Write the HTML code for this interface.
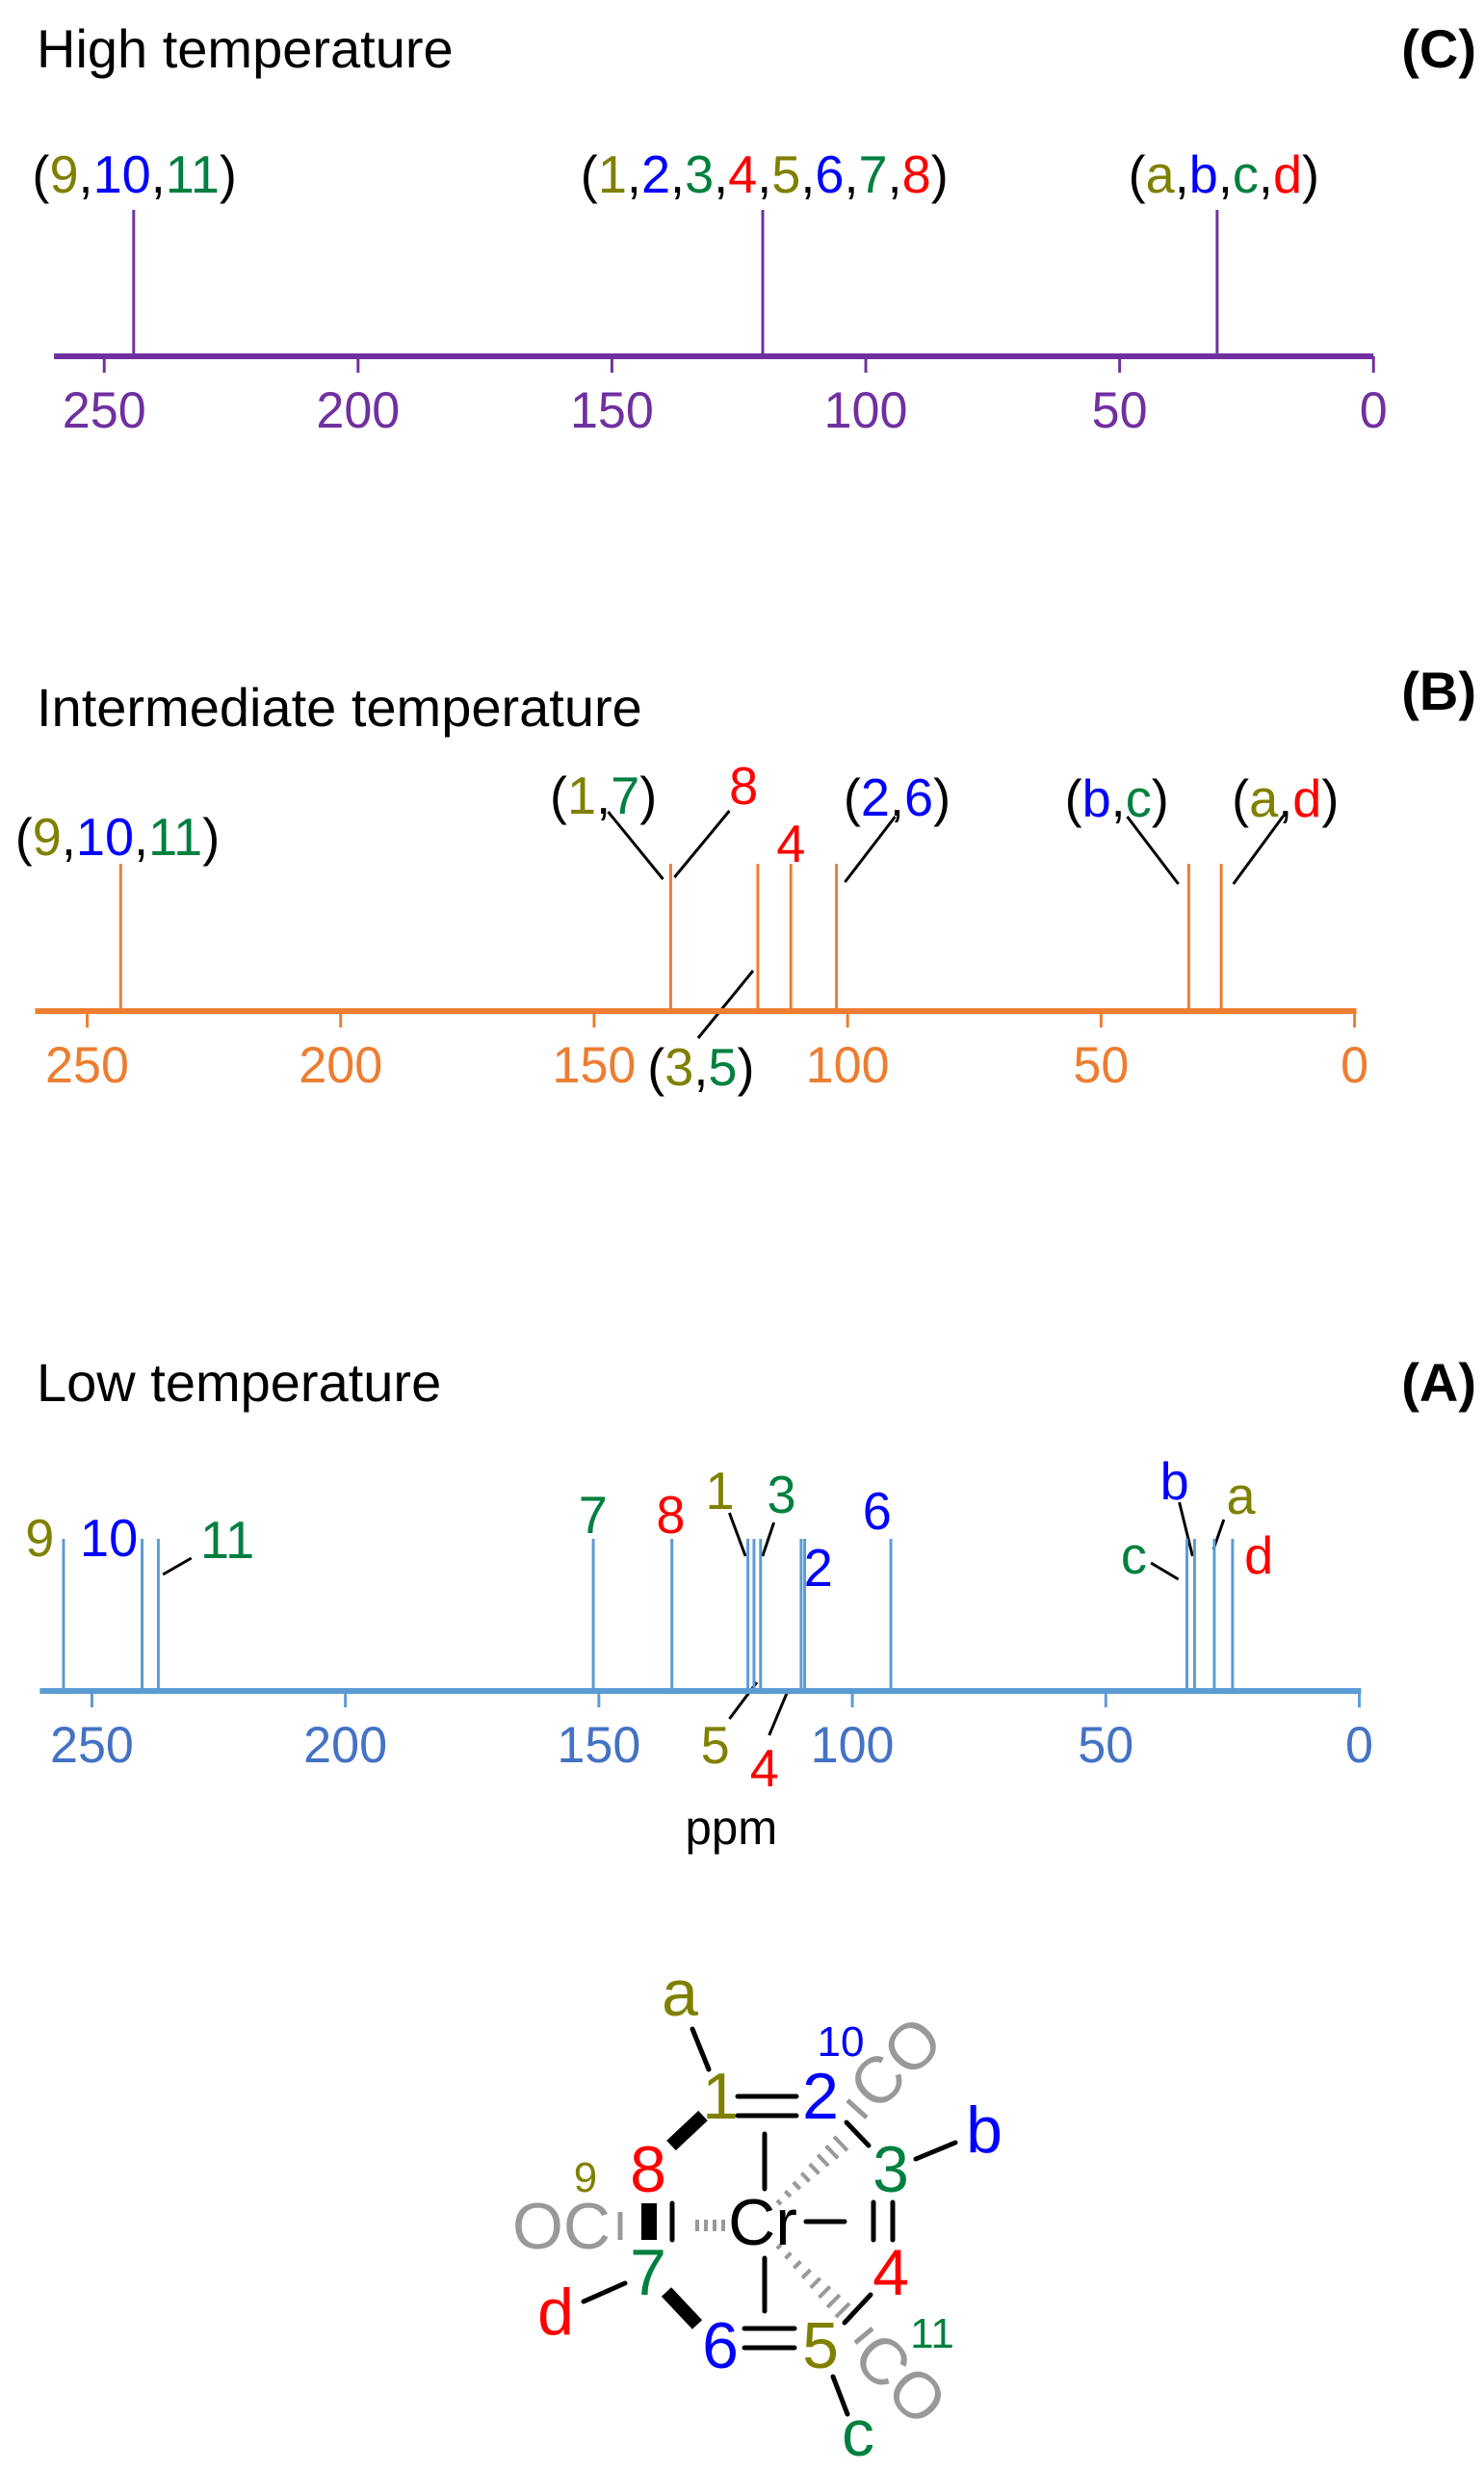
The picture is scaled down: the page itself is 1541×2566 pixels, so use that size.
<!DOCTYPE html>
<html><head><meta charset="utf-8"><style>
html,body{margin:0;padding:0;background:#fff}
svg{display:block;font-family:"Liberation Sans",sans-serif}
</style></head><body>
<svg id="s" width="1541" height="2566" viewBox="0 0 1541 2566" xmlns="http://www.w3.org/2000/svg">
<g font-size="56">
<text x="38" y="70">High temperature</text>
<text x="1533" y="70" text-anchor="end" font-weight="bold">(C)</text>
<text x="38" y="754">Intermediate temperature</text>
<text x="1533" y="737" text-anchor="end" font-weight="bold">(B)</text>
<text x="38" y="1455">Low temperature</text>
<text x="1533" y="1455" text-anchor="end" font-weight="bold">(A)</text>
</g>
<g transform="matrix(0.9836,0,0,1,2,0)">
<g font-size="55" text-anchor="middle">
<text x="140" y="200">(<tspan fill="#808000">9</tspan>,<tspan fill="#0000ff">10</tspan>,<tspan fill="#008040">11</tspan>)</text>
<text x="805" y="200">(<tspan fill="#808000">1</tspan>,<tspan fill="#0000ff">2</tspan>,<tspan fill="#008040">3</tspan>,<tspan fill="#ff0000">4</tspan>,<tspan fill="#808000">5</tspan>,<tspan fill="#0000ff">6</tspan>,<tspan fill="#008040">7</tspan>,<tspan fill="#ff0000">8</tspan>)</text>
<text x="1290" y="200">(<tspan fill="#808000">a</tspan>,<tspan fill="#0000ff">b</tspan>,<tspan fill="#008040">c</tspan>,<tspan fill="#ff0000">d</tspan>)</text>
</g>
<g font-size="55" text-anchor="middle">
<text x="122" y="888">(<tspan fill="#808000">9</tspan>,<tspan fill="#0000ff">10</tspan>,<tspan fill="#008040">11</tspan>)</text>
<text x="635" y="845">(<tspan fill="#808000">1</tspan>,<tspan fill="#008040">7</tspan>)</text>
<text x="783" y="835" fill="#ff0000">8</text>
<text x="833" y="895" fill="#ff0000">4</text>
<text x="945" y="847">(<tspan fill="#0000ff">2</tspan>,<tspan fill="#0000ff">6</tspan>)</text>
<text x="1177" y="848">(<tspan fill="#0000ff">b</tspan>,<tspan fill="#008040">c</tspan>)</text>
<text x="1355" y="848">(<tspan fill="#808000">a</tspan>,<tspan fill="#ff0000">d</tspan>)</text>
<text x="738" y="1127">(<tspan fill="#808000">3</tspan>,<tspan fill="#008040">5</tspan>)</text>
</g>
<g stroke="#000" stroke-width="3">
<line x1="640" y1="843" x2="698" y2="913"/><line x1="768" y1="842" x2="710" y2="911"/>
<line x1="943" y1="848" x2="890" y2="916"/><line x1="1188" y1="848" x2="1242" y2="918"/>
<line x1="1353" y1="847" x2="1300" y2="918"/><line x1="793" y1="1008" x2="735" y2="1078"/>
</g>
<g font-size="55" text-anchor="middle">
<text x="40" y="1616" fill="#808000">9</text>
<text x="113" y="1616" fill="#0000ff">10</text>
<text x="238" y="1618" fill="#008040">11</text>
<text x="624" y="1592" fill="#008040">7</text>
<text x="706" y="1592" fill="#ff0000">8</text>
<text x="758" y="1567" fill="#808000">1</text>
<text x="823" y="1571" fill="#008040">3</text>
<text x="862" y="1647" fill="#0000ff">2</text>
<text x="924" y="1588" fill="#0000ff">6</text>
<text x="753" y="1831" fill="#808000">5</text>
<text x="805" y="1855" fill="#ff0000">4</text>
<text x="1238" y="1557" fill="#0000ff">b</text>
<text x="1308" y="1572" fill="#808000">a</text>
<text x="1195" y="1634" fill="#008040">c</text>
<text x="1327" y="1634" fill="#ff0000">d</text>
</g>
<g stroke="#000" stroke-width="3">
<line x1="170" y1="1635" x2="200" y2="1618"/>
<line x1="768" y1="1571" x2="785" y2="1616"/><line x1="815" y1="1581" x2="803" y2="1616"/>
<line x1="768" y1="1785" x2="797" y2="1747"/><line x1="810" y1="1802" x2="830" y2="1755"/>
<line x1="1243" y1="1560" x2="1257" y2="1616"/><line x1="1290" y1="1578" x2="1279" y2="1609"/>
<line x1="1213" y1="1623" x2="1242" y2="1640"/>
</g>
<text x="770" y="1915" font-size="50" text-anchor="middle">ppm</text>
<g id="charts"></g>
</g>
<g id="mol" font-size="68" text-anchor="middle">
<g stroke="#000" stroke-width="5" stroke-linecap="round">
<line x1="719" y1="2107" x2="736" y2="2149"/>
<line x1="766" y1="2177" x2="827" y2="2177"/><line x1="766" y1="2197" x2="827" y2="2197"/>
<line x1="879" y1="2204" x2="902" y2="2228"/>
<line x1="951" y1="2242" x2="992" y2="2225"/>
<line x1="794" y1="2216" x2="794" y2="2273"/>
<line x1="794" y1="2345" x2="794" y2="2400"/>
<line x1="837" y1="2307" x2="877" y2="2307"/>
<line x1="907" y1="2287" x2="907" y2="2326"/><line x1="927" y1="2287" x2="927" y2="2326"/>
<line x1="904" y1="2383" x2="877" y2="2412"/>
<line x1="865" y1="2468" x2="880" y2="2507"/>
<line x1="773" y1="2418" x2="825" y2="2418"/><line x1="773" y1="2438" x2="825" y2="2438"/>
<line x1="698" y1="2288" x2="698" y2="2326"/>
<line x1="606" y1="2390" x2="649" y2="2371"/>
</g>
<g stroke="#000" stroke-width="14">
<line x1="692" y1="2380" x2="724" y2="2414"/>
<line x1="697" y1="2228" x2="730" y2="2197"/>
<line x1="674" y1="2288" x2="674" y2="2326" stroke-width="16"/>
</g>
<g stroke="#999" stroke-width="5">
<line x1="644" y1="2297" x2="644" y2="2326"/>
<line x1="880" y1="2181" x2="900" y2="2199"/>
<line x1="888" y1="2433" x2="906" y2="2418"/>
</g>
<g stroke="#999" stroke-width="4" id="hash"></g>
<text x="706" y="2093" fill="#808000">a</text>
<text x="748" y="2200" fill="#808000">1</text>
<text x="852" y="2200" fill="#0000ff">2</text>
<text x="925" y="2276" fill="#008040">3</text>
<text x="1022" y="2235" fill="#0000ff">b</text>
<text x="792" y="2331" fill="#000">Cr</text>
<text x="925" y="2383" fill="#ff0000">4</text>
<text x="852" y="2459" fill="#808000">5</text>
<text x="891" y="2550" fill="#008040">c</text>
<text x="748" y="2459" fill="#0000ff">6</text>
<text x="673" y="2276" fill="#ff0000">8</text>
<text x="673" y="2383" fill="#008040">7</text>
<text x="577" y="2424" fill="#ff0000">d</text>
<text x="583" y="2335" fill="#999">OC</text>
<text transform="translate(931,2143) rotate(-45)" y="22" fill="#999">CO</text>
<text transform="translate(934,2471) rotate(45)" y="22" fill="#999">CO</text>
<g font-size="44">
<text x="873" y="2135" fill="#0000ff">10</text>
<text x="608" y="2276" fill="#808000">9</text>
<text x="968" y="2438" fill="#008040">11</text>
</g>
</g>
</svg>
<script>
// Panel C (high temperature) data
var ticksC = [250, 200, 150, 100, 50, 0];
var peaksC = [244.2, 120.3, 30.8];
// Panel B (intermediate temperature) data
var ticksB = [250, 200, 150, 100, 50, 0];
var peaksB = [243.4, 134.9, 117.7, 111.2, 102.2, 32.7, 26.3];
// Panel A (low temperature) data
var ticksA = [250, 200, 150, 100, 50, 0];
var peaksA = [255.6, 240.1, 236.9, 151.1, 135.6, 120.6, 119.4, 118.1, 110.1, 109.4, 92.4, 34.0, 32.5, 28.6, 25.0];

var NS = "http://www.w3.org/2000/svg";
var root = document.getElementById("charts");
function mk(tag, attrs, parent) {
  var e = document.createElementNS(NS, tag);
  for (var k in attrs) e.setAttribute(k, attrs[k]);
  parent.appendChild(e);
  return e;
}
function panel(id, peaks, ticks, cfg) {
  var g = mk("g", {}, root);
  
  
  function x(v) { return cfg.x0 - v * cfg.k; }
  var ax = mk("line", {x1: cfg.ax0, x2: cfg.ax1, y1: cfg.ay, y2: cfg.ay, stroke: cfg.c, "stroke-width": 6}, g);
  
  
  ticks.forEach(function (t) {
    var tk = mk("line", {x1: x(t), x2: x(t), y1: cfg.ay, y2: cfg.ay + 17, stroke: cfg.c, "stroke-width": 3}, g);
    
    
    var tl = mk("text", {x: x(t), y: cfg.ty, "font-size": 53, "text-anchor": "middle", fill: cfg.tc}, g);
    tl.textContent = t;
    
    
  });
  peaks.forEach(function (p) {
    var ln = mk("line", {x1: x(p), x2: x(p), y1: cfg.top, y2: cfg.ay, stroke: cfg.c, "stroke-width": 3}, g);
    
    
  });
}
panel("high-temp", peaksC, ticksC, {x0: 1448, k: 5.36, ax0: 55, ax1: 1448, ay: 370, top: 218, ty: 444, c: "#7030a0", tc: "#7030a0"});
panel("intermediate-temp", peaksB, ticksB, {x0: 1428, k: 5.352, ax0: 35, ax1: 1430, ay: 1050, top: 897, ty: 1124, c: "#ed7d31", tc: "#ed7d31"});
panel("low-temp", peaksA, ticksA, {x0: 1433, k: 5.352, ax0: 40, ax1: 1435, ay: 1756, top: 1598, ty: 1830, c: "#5b9bd5", tc: "#4472c4"});

// hashed bonds
var hash = document.getElementById("hash");
function hashed(x1, y1, x2, y2, n, w0, w1) {
  var dx = x2 - x1, dy = y2 - y1, L = Math.sqrt(dx * dx + dy * dy);
  var px = -dy / L, py = dx / L;
  for (var i = 0; i < n; i++) {
    var t = i / (n - 1), cx = x1 + dx * t, cy = y1 + dy * t, w = w0 + (w1 - w0) * t;
    mk("line", {x1: cx - px * w, y1: cy - py * w, x2: cx + px * w, y2: cy + py * w}, hash);
  }
}
hashed(809, 2287, 873, 2226, 8, 3, 10);
hashed(809, 2333, 875, 2399, 8, 3, 10);
hashed(724, 2311, 751, 2311, 4, 6, 6);
</script>
</body></html>
